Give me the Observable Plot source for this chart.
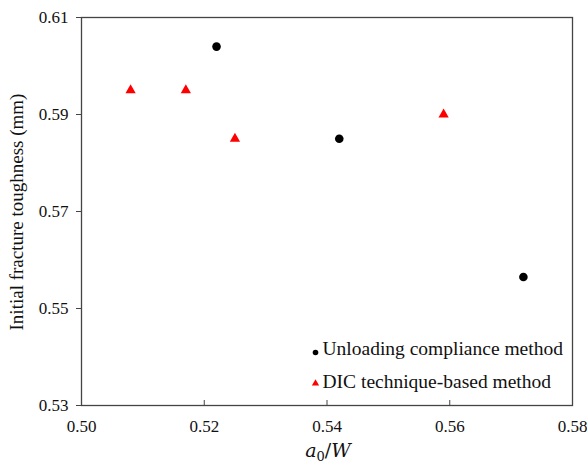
<!DOCTYPE html>
<html>
<head>
<meta charset="utf-8">
<script src="https://cdn.jsdelivr.net/npm/d3@7"></script>
<script src="https://cdn.jsdelivr.net/npm/@observablehq/plot@0.6"></script>
<style>
  html, body { margin: 0; padding: 0; background: #fff; }
  #chart { width: 587px; height: 468px; }
</style>
</head>
<body>
<div id="chart"></div>
<script>
// Unloading compliance method
const ucX = [0.522, 0.542, 0.572];
const ucY = [0.604, 0.585, 0.5565];
// DIC technique-based method
const dicX = [0.508, 0.517, 0.525, 0.559];
const dicY = [0.595, 0.595, 0.585, 0.590];

const xTicks = [0.50, 0.52, 0.54, 0.56, 0.58];
const yTicks = [0.53, 0.55, 0.57, 0.59, 0.61];
const seriesNames = ["Unloading compliance method", "DIC technique-based method"];
const yLabel = "Initial fracture toughness (mm)";

const uc = ucX.map((x, i) => ({x, y: ucY[i]}));
const dic = dicX.map((x, i) => ({x, y: dicY[i]}));

const font = "'Liberation Serif', 'Times New Roman', serif";

const plot = Plot.plot({
  width: 587,
  height: 468,
  marginLeft: 81,
  marginTop: 17,
  marginRight: 15,
  marginBottom: 63,
  style: {fontFamily: font, fontSize: "17px", color: "#111", background: "#fff"},
  x: {domain: [0.50, 0.58]},
  y: {domain: [0.53, 0.61]},
  marks: [
    Plot.frame({stroke: "#444", strokeWidth: 1.3}),
    Plot.axisX({ticks: xTicks, tickFormat: d3.format(".2f"), tickSize: -5, tickPadding: 19, label: null, fontSize: 17, stroke: "#444"}),
    Plot.axisY({ticks: yTicks, tickFormat: d3.format(".2f"), tickSize: 5, tickPadding: 8, label: null, fontSize: 17, stroke: "#444"}),
    Plot.dot(uc, {x: "x", y: "y", r: 4.3, fill: "black", symbol: "circle"}),
    Plot.dot(dic, {x: "x", y: "y", r: 3.8, fill: "red", symbol: "triangle"}),
    // legend
    Plot.dot([seriesNames[0]], {frameAnchor: "bottom-left", dx: 234, dy: -53, r: 2.8, fill: "black", symbol: "circle"}),
    Plot.text([seriesNames[0]], {text: d => d, frameAnchor: "bottom-left", dx: 241, dy: -51, textAnchor: "start", fontSize: 19.5, fill: "#111"}),
    Plot.dot([seriesNames[1]], {frameAnchor: "bottom-left", dx: 234, dy: -22, r: 2.7, fill: "red", symbol: "triangle"}),
    Plot.text([seriesNames[1]], {text: d => d, frameAnchor: "bottom-left", dx: 241, dy: -18, textAnchor: "start", fontSize: 19.5, fill: "#111"})
  ]
});

document.getElementById("chart").appendChild(plot);

const svg = d3.select(plot);
// y label
svg.append("text")
  .attr("transform", `translate(19, 212) rotate(-90)`)
  .attr("text-anchor", "middle")
  .attr("dominant-baseline", "middle")
  .attr("font-family", font)
  .attr("font-size", 19)
  .attr("fill", "#111")
  .text(yLabel);
// x label a0/W
const xl = svg.append("text")
  .attr("x", 328)
  .attr("y", 457)
  .attr("text-anchor", "middle")
  .attr("font-family", "'DejaVu Serif', serif")
  .attr("font-size", 19)
  .attr("fill", "#111");
xl.append("tspan").attr("font-style", "italic").text("a");
xl.append("tspan").attr("font-size", 13).attr("dy", 4).text("0");
xl.append("tspan").attr("dy", -4).text("/");
xl.append("tspan").attr("font-style", "italic").text("W");
</script>
</body>
</html>
